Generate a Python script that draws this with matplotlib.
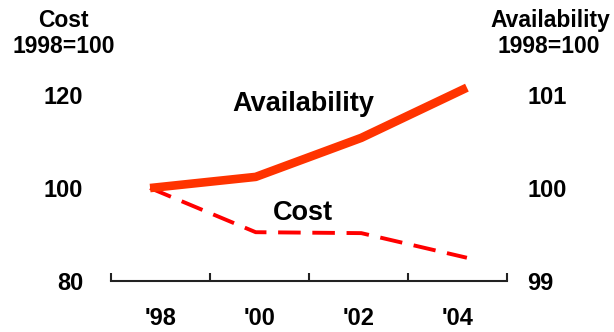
import matplotlib.pyplot as plt
import numpy as np

# Data
years = [1998, 2000, 2002, 2004]
cost = [100, 90.5, 90.3, 85.0]
availability = [100, 100.12, 100.54, 101.08]
year_labels = ["'98", "'00", "'02", "'04"]

plt.rcParams['font.family'] = ['Liberation Sans', 'DejaVu Sans']
plt.rcParams['font.weight'] = 'bold'

fig = plt.figure(figsize=(6.14, 3.32), dpi=100)
ax = fig.add_axes([0.1808, 0.1536, 0.645, 0.560])
ax2 = ax.twinx()

xmin, xmax = 1997.26, 2004.76
ax.set_xlim(xmin, xmax)
ax.set_ylim(80, 120)
ax2.set_ylim(99, 101)

ax.plot(years, cost, color='#ff0000', lw=2.8, dashes=(5.8, 3))
ax2.plot(years, availability, color='#ff3300', lw=6.2, solid_capstyle='butt', clip_on=False)

for a in (ax, ax2):
    for s in ('top', 'left', 'right'):
        a.spines[s].set_visible(False)
ax2.spines['bottom'].set_visible(False)
ax.spines['bottom'].set_linewidth(1.5)
ax.spines['bottom'].set_color('#222222')

# category boundaries as ticks, labels centred between them
edges = np.linspace(xmin, xmax, 5)
ax.set_xticks(edges)
ax.set_xticklabels([])
ax.tick_params(axis='x', direction='in', length=6, width=1.5, color='#222222')
ax.set_xticks((edges[:-1] + edges[1:]) / 2, minor=True)
ax.set_xticklabels(year_labels, minor=True, fontsize=17, fontweight='bold')
ax.tick_params(axis='x', which='minor', length=0, pad=19)

ax.set_yticks([80, 100, 120])
ax.tick_params(axis='y', length=0, pad=20, labelsize=17)
ax2.set_yticks([99, 100, 101])
ax2.tick_params(axis='y', length=0, pad=14.5, labelsize=17)

ax.text(2000.9, 116.6, 'Availability', fontsize=19.5, fontweight='bold', ha='center', va='baseline')
ax.text(2000.9, 93.1, 'Cost', fontsize=19.5, fontweight='bold', ha='center', va='baseline')

fig.text(63.5 / 614, 1 - 27 / 332, 'Cost', ha='center', va='baseline', fontsize=16.5, fontweight='bold')
fig.text(63.5 / 614, 1 - 53 / 332, '1998=100', ha='center', va='baseline', fontsize=16.5, fontweight='bold')
fig.text(550 / 614, 1 - 27 / 332, 'Availability', ha='center', va='baseline', fontsize=16.5, fontweight='bold')
fig.text(549 / 614, 1 - 53 / 332, '1998=100', ha='center', va='baseline', fontsize=16.5, fontweight='bold')

fig.savefig('out.png', dpi=100)
